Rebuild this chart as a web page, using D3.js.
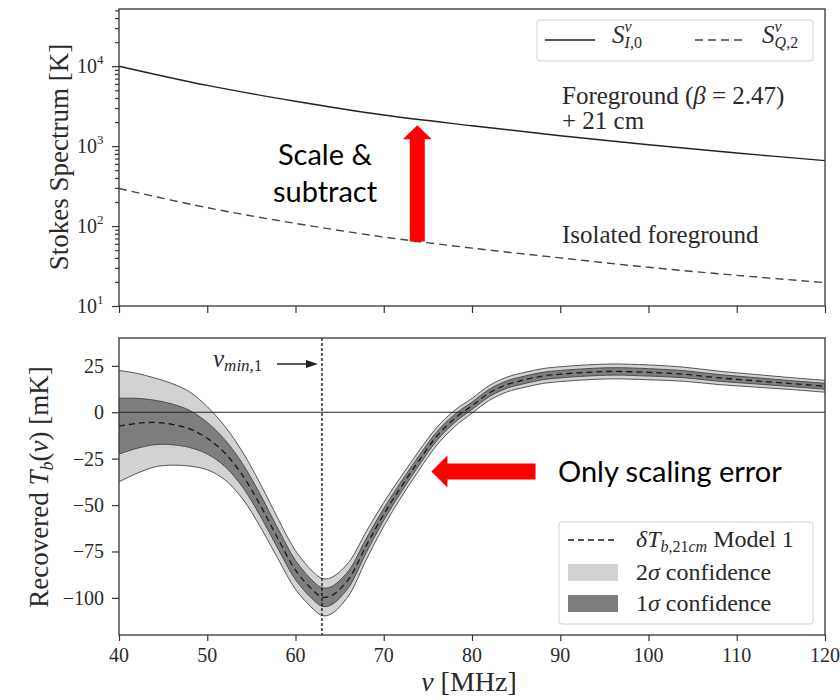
<!DOCTYPE html>
<html>
<head>
<meta charset="UTF-8">
<script src="https://d3js.org/d3.v7.min.js"></script>
<style>
  body { margin: 0; background: #fff; }
  .serif { font-family: 'Liberation Serif', 'DejaVu Serif', serif; fill: #2a2a2a; }
  .sans { font-family: Lato, 'Open Sans', sans-serif; fill: #000; }
  .axis path.domain { display: none; }
  .axis line { stroke: #333; stroke-width: 1.2; }
</style>
</head>
<body>
<script>
// ---- top panel data (Stokes spectra, K) ----
var freqTop = [40, 50, 60, 70, 80, 90, 100, 110, 120];
var stokesI = [10000, 5750, 3650, 2450, 1800, 1350, 1040, 820, 660];
var stokesQ = [295, 170, 108, 73, 53, 40, 30.5, 24.2, 19.6];
var logTicks = [10, 100, 1000, 10000];
var logTickExp = ["1", "2", "3", "4"];

// ---- bottom panel data (recovered T_b, mK) ----
var freq = [40, 42, 44, 46, 48, 50, 52, 54, 56, 58, 60, 62, 63, 64, 66, 68, 70, 72, 74, 76,
            78, 80, 82, 84, 86, 88, 90, 93, 96, 100, 104, 108, 112, 116, 120];
var tbMean = [-7.5, -6, -5.5, -6.5, -9, -14, -22, -34, -50, -68, -85, -96, -99.5, -99, -90, -72, -55, -40, -26, -13,
              -3.5, 3.5, 10.5, 15, 17.5, 19.5, 20.5, 21.5, 22, 21.5, 20.5, 18.5, 17, 15.5, 14];
var hi1 = [7.5, 7.5, 6.5, 4.5, 1, -5.5, -14.8, -27.7, -44.2, -62.6, -79.8, -91, -94.5, -94.1, -85.5, -68.2, -51.8, -37.2, -23.4, -10.6,
           -1.3, 5.5, 12.5, 17, 19.5, 21.5, 22.5, 23.5, 24, 23.5, 22.4, 20.3, 18.7, 17.1, 15.6];
var lo1 = [-22.5, -19.5, -17.5, -17.5, -19, -22.5, -29.2, -40.3, -55.8, -73.4, -90.2, -101, -104.5, -103.9, -94.5, -75.8, -58.2, -42.8, -28.6, -15.4,
           -5.7, 1.5, 8.5, 13, 15.5, 17.5, 18.5, 19.5, 20, 19.5, 18.6, 16.7, 15.3, 13.9, 12.4];
var hi2 = [22.5, 21, 18.5, 15.5, 11, 3, -7.6, -21.4, -38.4, -57.2, -74.6, -86, -89.5, -89.2, -81, -64.4, -48.6, -34.4, -20.8, -8.2,
           0.9, 7.5, 14.5, 19, 21.5, 23.5, 24.5, 25.5, 26, 25.5, 24.3, 22.1, 20.4, 18.7, 17.2];
var lo2 = [-37.5, -33, -29.5, -28.5, -29, -31, -36.4, -46.6, -61.6, -78.8, -95.4, -106, -109.5, -108.8, -99, -79.6, -61.4, -45.6, -31.2, -17.8,
           -7.9, -0.5, 6.5, 11, 13.5, 15.5, 16.5, 17.5, 18, 17.5, 16.7, 14.9, 13.6, 12.3, 10.8];
var nuMin = 63;
var xTicks = [40, 50, 60, 70, 80, 90, 100, 110, 120];
var yTicksBot = [25, 0, -25, -50, -75, -100];

// ---- scales ----
var x = d3.scaleLinear().domain([40, 120]).range([119, 825]);
var yTop = d3.scaleLog().domain([10, 52000]).range([306, 9]);
var yBot = d3.scaleLinear().domain([-120, 40]).range([635, 338]);
var smooth = d3.curveCatmullRom.alpha(0.5);

var svg = d3.select("body").append("svg")
    .attr("width", 840).attr("height", 700);

// ================= TOP PANEL =================
var topPanel = svg.append("g");

var lineTop = function (vals) {
    return d3.line()
        .x(function (d, i) { return x(freqTop[i]); })
        .y(function (d) { return yTop(d); })
        .curve(smooth)(vals);
};

topPanel.append("path").attr("d", lineTop(stokesI))
    .attr("fill", "none").attr("stroke", "#222").attr("stroke-width", 1.4);
topPanel.append("path").attr("d", lineTop(stokesQ))
    .attr("fill", "none").attr("stroke", "#444").attr("stroke-width", 1.4)
    .attr("stroke-dasharray", "8,5");

// axes
topPanel.append("g").attr("class", "axis")
    .attr("transform", "translate(0,306)")
    .call(d3.axisBottom(x).tickValues(xTicks).tickSize(7).tickFormat(""));
topPanel.append("g").attr("class", "axis")
    .attr("transform", "translate(119,0)")
    .call(d3.axisLeft(yTop).tickValues(logTicks).tickSize(7).tickFormat(""));
topPanel.append("g").attr("class", "axis")
    .attr("transform", "translate(119,0)")
    .call(d3.axisLeft(yTop).tickValues(yTop.ticks().filter(function (v) { return logTicks.indexOf(v) < 0; }))
        .tickSize(4).tickFormat(""));

logTicks.forEach(function (v, i) {
    var t = topPanel.append("text").attr("class", "serif")
        .attr("x", 77).attr("y", yTop(v) + 7).style("font-size", "20px");
    t.append("tspan").text("10");
    t.append("tspan").attr("dy", -9).style("font-size", "13px").text(logTickExp[i]);
});

topPanel.append("rect").attr("x", 119).attr("y", 9).attr("width", 706).attr("height", 297)
    .attr("fill", "none").attr("stroke", "#333").attr("stroke-width", 1.3);

topPanel.append("text").attr("class", "serif")
    .attr("transform", "translate(68,157) rotate(-90)")
    .attr("text-anchor", "middle").style("font-size", "27px")
    .text("Stokes Spectrum [K]");

// legend top
var lg = topPanel.append("g");
lg.append("rect").attr("x", 537).attr("y", 20).attr("width", 276).attr("height", 41)
    .attr("rx", 3).attr("fill", "#fff").attr("stroke", "#d0d0d0");
lg.append("line").attr("x1", 545).attr("x2", 595).attr("y1", 40).attr("y2", 40)
    .attr("stroke", "#222").attr("stroke-width", 1.4);
lg.append("line").attr("x1", 695).attr("x2", 745).attr("y1", 40).attr("y2", 40)
    .attr("stroke", "#444").attr("stroke-width", 1.4).attr("stroke-dasharray", "8,5");
function stokesLabel(x0, sub) {
    var t = lg.append("text").attr("class", "serif").attr("x", x0).attr("y", 43)
        .style("font-size", "25px");
    t.append("tspan").style("font-style", "italic").text("S");
    t.append("tspan").attr("dy", -11).style("font-size", "16px").style("font-style", "italic").text("ν");
    t.append("tspan").attr("dx", -7).attr("dy", 16).style("font-size", "16px").style("font-style", "italic").text(sub[0]);
    t.append("tspan").style("font-size", "16px").text(sub[1]);
}
stokesLabel(612, ["I", ",0"]);
stokesLabel(762, ["Q", ",2"]);

// text annotations
topPanel.append("text").attr("class", "serif").attr("x", 562).attr("y", 104)
    .style("font-size", "25px")
    .html("Foreground (<tspan font-style='italic'>β</tspan> = 2.47)");
topPanel.append("text").attr("class", "serif").attr("x", 562).attr("y", 129)
    .style("font-size", "25px").text("+ 21 cm");
topPanel.append("text").attr("class", "serif").attr("x", 562).attr("y", 243)
    .style("font-size", "25px").text("Isolated foreground");

// ================= BOTTOM PANEL =================
var bot = svg.append("g");

function area(hi, lo) {
    return d3.area()
        .x(function (d, i) { return x(freq[i]); })
        .y0(function (d, i) { return yBot(lo[i]); })
        .y1(function (d) { return yBot(d); })
        .curve(smooth)(hi);
}
function lineBot(vals) {
    return d3.line()
        .x(function (d, i) { return x(freq[i]); })
        .y(function (d) { return yBot(d); })
        .curve(smooth)(vals);
}

bot.append("path").attr("d", area(hi2, lo2)).attr("fill", "#d2d2d2");
bot.append("path").attr("d", area(hi1, lo1)).attr("fill", "#7e7e7e");
[hi2, lo2, hi1, lo1].forEach(function (v) {
    bot.append("path").attr("d", lineBot(v)).attr("fill", "none")
        .attr("stroke", "#444").attr("stroke-width", 0.9);
});
bot.append("path").attr("d", lineBot(tbMean)).attr("fill", "none")
    .attr("stroke", "#1a1a1a").attr("stroke-width", 1.3).attr("stroke-dasharray", "6,4");

// zero line and nu_min line
bot.append("line").attr("x1", x(40)).attr("x2", x(120)).attr("y1", yBot(0)).attr("y2", yBot(0))
    .attr("stroke", "#222").attr("stroke-width", 1.1);
bot.append("line").attr("x1", x(nuMin)).attr("x2", x(nuMin)).attr("y1", yBot(40)).attr("y2", yBot(-120))
    .attr("stroke", "#111").attr("stroke-width", 1.3).attr("stroke-dasharray", "3,2");

// nu_min label and arrow
var nt = bot.append("text").attr("class", "serif").attr("x", 213).attr("y", 367)
    .style("font-size", "25px");
nt.append("tspan").style("font-style", "italic").text("ν");
nt.append("tspan").attr("dy", 4).style("font-size", "17px").style("font-style", "italic").text("min");
nt.append("tspan").style("font-size", "17px").text(",1");
bot.append("line").attr("x1", 277).attr("x2", 310).attr("y1", 364).attr("y2", 364)
    .attr("stroke", "#222").attr("stroke-width", 1.5);
bot.append("path").attr("d", "M318,364 L306,360 L306,368 Z").attr("fill", "#222");

// axes
bot.append("g").attr("class", "axis")
    .attr("transform", "translate(0,635)")
    .call(d3.axisBottom(x).tickValues(xTicks).tickSize(6).tickFormat(""));
bot.append("g").attr("class", "axis")
    .attr("transform", "translate(119,0)")
    .call(d3.axisLeft(yBot).tickValues(yTicksBot).tickSize(7).tickFormat(""));

xTicks.forEach(function (v) {
    bot.append("text").attr("class", "serif").attr("x", x(v)).attr("y", 662)
        .attr("text-anchor", "middle").style("font-size", "20px").text(v);
});
yTicksBot.forEach(function (v) {
    bot.append("text").attr("class", "serif").attr("x", 104).attr("y", yBot(v) + 7)
        .attr("text-anchor", "end").style("font-size", "20px")
        .text(v < 0 ? "\u2212" + Math.abs(v) : v);
});

bot.append("rect").attr("x", 119).attr("y", 338).attr("width", 706).attr("height", 297)
    .attr("fill", "none").attr("stroke", "#333").attr("stroke-width", 1.3);

var xl = bot.append("text").attr("class", "serif").attr("x", 469).attr("y", 691)
    .attr("text-anchor", "middle").style("font-size", "28px");
xl.append("tspan").style("font-style", "italic").text("ν");
xl.append("tspan").text(" [MHz]");

var yl = bot.append("text").attr("class", "serif")
    .attr("transform", "translate(48,487) rotate(-90)")
    .attr("text-anchor", "middle").style("font-size", "27px");
yl.append("tspan").text("Recovered ");
yl.append("tspan").style("font-style", "italic").text("T");
yl.append("tspan").attr("dy", 5).style("font-size", "18px").style("font-style", "italic").text("b");
yl.append("tspan").attr("dy", -5).text("(");
yl.append("tspan").style("font-style", "italic").text("ν");
yl.append("tspan").text(") [mK]");

// legend bottom
var lb = bot.append("g");
lb.append("rect").attr("x", 559).attr("y", 522).attr("width", 254).attr("height", 102)
    .attr("rx", 3).attr("fill", "#fff").attr("stroke", "#d0d0d0");
lb.append("line").attr("x1", 568).attr("x2", 618).attr("y1", 540).attr("y2", 540)
    .attr("stroke", "#1a1a1a").attr("stroke-width", 1.3).attr("stroke-dasharray", "6,4");
lb.append("rect").attr("x", 568).attr("y", 564).attr("width", 50).attr("height", 17).attr("fill", "#d2d2d2");
lb.append("rect").attr("x", 568).attr("y", 595).attr("width", 50).attr("height", 17).attr("fill", "#7e7e7e");
var l1 = lb.append("text").attr("class", "serif").attr("x", 636).attr("y", 547).style("font-size", "24px");
l1.append("tspan").style("font-style", "italic").text("δT");
l1.append("tspan").attr("dy", 5).style("font-size", "16px").style("font-style", "italic").text("b");
l1.append("tspan").style("font-size", "16px").text(",21");
l1.append("tspan").style("font-size", "16px").style("font-style", "italic").text("cm");
l1.append("tspan").attr("dy", -5).text(" Model 1");
lb.append("text").attr("class", "serif").attr("x", 636).attr("y", 580).style("font-size", "24px")
    .html("2<tspan font-style='italic'>σ</tspan> confidence");
lb.append("text").attr("class", "serif").attr("x", 636).attr("y", 611).style("font-size", "24px")
    .html("1<tspan font-style='italic'>σ</tspan> confidence");

// ================= RED ANNOTATIONS =================
function blockArrow(x0, y0, x1, y1, shaft, head, headLen) {
    // tail (x0,y0) -> tip (x1,y1)
    var dx = x1 - x0, dy = y1 - y0, L = Math.sqrt(dx * dx + dy * dy);
    var ux = dx / L, uy = dy / L, px = -uy, py = ux;
    var bx = x1 - ux * headLen, by = y1 - uy * headLen;
    var pts = [
        [x0 + px * shaft / 2, y0 + py * shaft / 2],
        [bx + px * shaft / 2, by + py * shaft / 2],
        [bx + px * head / 2, by + py * head / 2],
        [x1, y1],
        [bx - px * head / 2, by - py * head / 2],
        [bx - px * shaft / 2, by - py * shaft / 2],
        [x0 - px * shaft / 2, y0 - py * shaft / 2]
    ];
    return "M" + pts.map(function (p) { return p.join(","); }).join("L") + "Z";
}
// arrow 1: from isolated foreground up to total spectrum
svg.append("path").attr("d", blockArrow(x(73.8), yTop(64), x(73.8), yTop(1820), 15, 29, 14))
    .attr("fill", "#ff0000");
// arrow 2: pointing at the recovered signal
svg.append("path").attr("d", blockArrow(x(87.2), yBot(-31.9), x(75.4), yBot(-31.9), 16, 32, 16))
    .attr("fill", "#ff0000");

svg.append("text").attr("class", "sans").attr("x", 325).attr("y", 165)
    .attr("text-anchor", "middle").style("font-size", "29px").text("Scale &");
svg.append("text").attr("class", "sans").attr("x", 325).attr("y", 202)
    .attr("text-anchor", "middle").style("font-size", "29px").text("subtract");
svg.append("text").attr("class", "sans").attr("x", 558).attr("y", 482)
    .style("font-size", "29px").text("Only scaling error");
</script>
</body>
</html>
